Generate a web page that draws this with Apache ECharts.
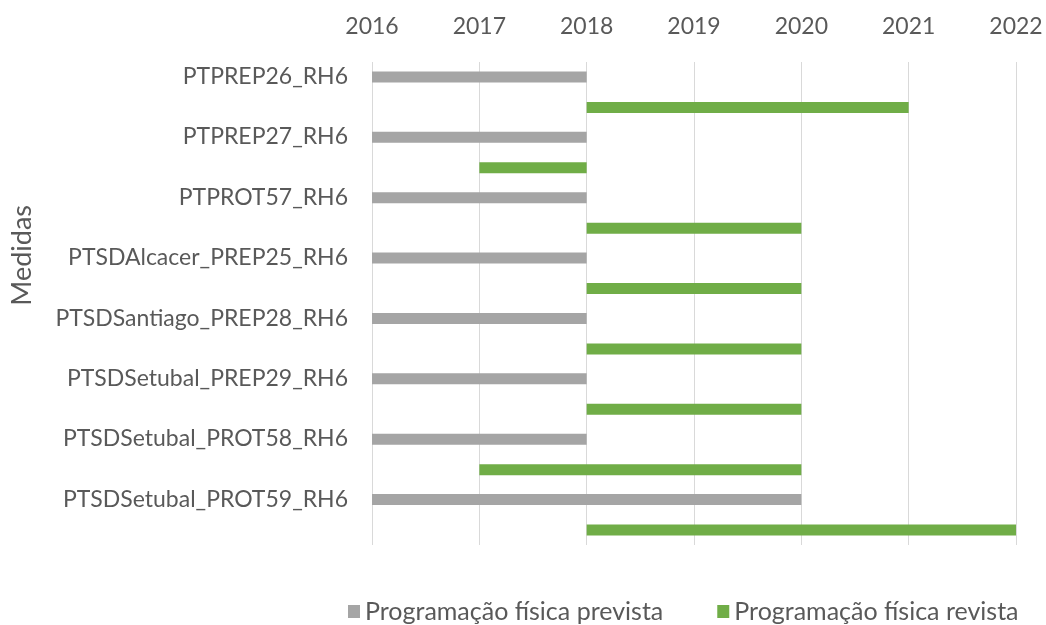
<!DOCTYPE html>
<html>
<head>
<meta charset="utf-8">
<script src="https://cdn.jsdelivr.net/npm/echarts@6/dist/echarts.min.js"></script>
<style>
  html, body { margin: 0; padding: 0; background: #fff; }
  #chart { width: 1046px; height: 625px; }
</style>
</head>
<body>
<div id="chart"></div>
<script>
// dados
const medidas = ['PTPREP26_RH6', 'PTPREP27_RH6', 'PTPROT57_RH6', 'PTSDAlcacer_PREP25_RH6',
    'PTSDSantiago_PREP28_RH6', 'PTSDSetubal_PREP29_RH6', 'PTSDSetubal_PROT58_RH6', 'PTSDSetubal_PROT59_RH6'];
const previstaInicio = [2016, 2016, 2016, 2016, 2016, 2016, 2016, 2016];
const previstaFim = [2018, 2018, 2018, 2018, 2018, 2018, 2018, 2020];
const revistaInicio = [2018, 2017, 2018, 2018, 2018, 2018, 2017, 2018];
const revistaFim = [2021, 2018, 2020, 2020, 2020, 2020, 2020, 2022];
const anos = [2016, 2022];

const nomePrevista = 'Programação física prevista';
const nomeRevista = 'Programação física revista';

const FONT = 'Lato';
const TEXT_COLOR = '#595959';

const chart = echarts.init(document.getElementById('chart'));

// duração = fim - início (barra empilhada sobre uma base invisível)
const duracao = (ini, fim) => fim.map((v, i) => v - ini[i]);

chart.setOption({
    animation: false,
    textStyle: { fontFamily: FONT },
    grid: { left: 372, right: 30, top: 62, bottom: 80, containLabel: false },
    legend: {
        left: 343,
        top: 594,
        data: [nomePrevista, nomeRevista],
        icon: 'rect',
        itemWidth: 12,
        itemHeight: 13,
        itemGap: 54,
        textStyle: { color: TEXT_COLOR, fontSize: 25, fontFamily: FONT }
    },
    graphic: [{
        type: 'text',
        left: 9,
        top: 205,
        rotation: Math.PI / 2,
        style: { text: 'Medidas', fill: TEXT_COLOR, font: '27px ' + FONT }
    }],
    xAxis: {
        type: 'value',
        position: 'top',
        min: anos[0],
        max: anos[1],
        interval: 1,
        axisLine: { show: false },
        axisTick: { show: false },
        axisLabel: { color: TEXT_COLOR, fontSize: 23, margin: 24, fontFamily: FONT, formatter: v => String(v) },
        splitLine: { lineStyle: { color: '#d9d9d9', width: 1 } }
    },
    yAxis: {
        type: 'category',
        inverse: true,
        data: medidas,
        axisLine: { show: false },
        axisTick: { show: false },
        axisLabel: {
            color: TEXT_COLOR, fontSize: 23, margin: 24, fontFamily: FONT,
            interval: 0, showMinLabel: true, showMaxLabel: true, hideOverlap: false,
            lineHeight: 31,
            // linha vazia por baixo: o rótulo fica alinhado com a barra prevista
            formatter: v => v + '\n '
        },
        splitLine: { show: false }
    },
    series: [
        {
            name: 'basePrevista', type: 'bar', stack: 'prev', silent: true,
            barWidth: 11, barGap: '177%',
            itemStyle: { color: 'transparent' },
            data: previstaInicio
        },
        {
            name: nomePrevista, type: 'bar', stack: 'prev',
            barWidth: 11, barGap: '177%',
            itemStyle: { color: '#a5a5a5' },
            data: duracao(previstaInicio, previstaFim)
        },
        {
            name: 'baseRevista', type: 'bar', stack: 'rev', silent: true,
            barWidth: 11, barGap: '177%',
            itemStyle: { color: 'transparent' },
            data: revistaInicio
        },
        {
            name: nomeRevista, type: 'bar', stack: 'rev',
            barWidth: 11, barGap: '177%',
            itemStyle: { color: '#70ad47' },
            data: duracao(revistaInicio, revistaFim)
        }
    ]
});
</script>
</body>
</html>
